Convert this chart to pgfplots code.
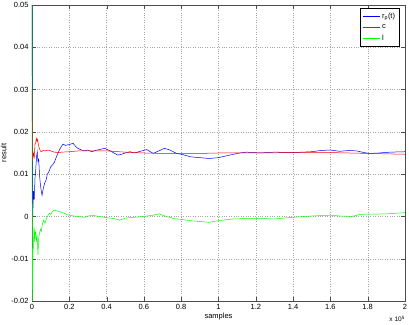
\documentclass[border=0pt]{standalone}
\usepackage{fontspec}
\setmainfont{Liberation Sans}
\usepackage{pgfplots}
\pgfplotsset{compat=1.18}
\begin{document}
\begin{tikzpicture}
\begin{axis}[
  name=ax,
  scale only axis,
  width=373pt, height=296pt,
  xmin=0, xmax=2, ymin=-0.02, ymax=0.05,
  xtick={0,0.2,...,2.01},
  ytick={-0.02,-0.01,0,0.01,0.02,0.03,0.04,0.05},
  scaled x ticks=false, scaled y ticks=false,
  xticklabel style={/pgf/number format/fixed,/pgf/number format/precision=1},
  yticklabel style={/pgf/number format/fixed,/pgf/number format/precision=2},
  /pgf/number format/assume math mode=true,
  tick label style={font=\fontsize{7.5}{9}\selectfont},
  label style={font=\fontsize{7.5}{9}\selectfont},
  xlabel={samples}, ylabel={result},
  xlabel style={yshift=4pt},
  ylabel style={yshift=-2pt},
  grid=major,
  major grid style={dotted, gray!70},
  axis line style={black!70},
  tick style={black!70},
  major tick length=4pt,
  clip=false,
  legend style={at={(0.986,0.99)}, anchor=north east, draw=black, font=\fontsize{7.5}{8}\selectfont, row sep=1pt, inner sep=2.5pt},
  legend cell align=left,
]
\addplot[blue, line width=0.5pt] coordinates {
(0,0.05)(0.004,0.000)(0.008,0.006)(0.012,0.004)(0.016,0.009)(0.020,0.011)(0.024,0.014)(0.028,0.0153)(0.032,0.013)(0.036,0.0135)(0.040,0.010)(0.045,0.0075)(0.050,0.006)(0.054,0.005)(0.060,0.0065)(0.068,0.0079)(0.075,0.0085)(0.082,0.0100)(0.090,0.0105)(0.100,0.0117)(0.110,0.0122)(0.120,0.0128)(0.130,0.0140)(0.140,0.0150)(0.150,0.0160)(0.166,0.0171)(0.180,0.0168)(0.200,0.0170)(0.220,0.0173)(0.235,0.0165)(0.246,0.0161)(0.26,0.0158)(0.28,0.0155)(0.30,0.0157)(0.32,0.0153)(0.34,0.0156)(0.36,0.0158)(0.39,0.0161)(0.42,0.0155)(0.44,0.0150)(0.46,0.0145)(0.48,0.0147)(0.50,0.0150)(0.525,0.0153)(0.55,0.0150)(0.58,0.0154)(0.615,0.0158)(0.65,0.0149)(0.68,0.0155)(0.71,0.0161)(0.74,0.0157)(0.775,0.0149)(0.80,0.0147)(0.85,0.0141)(0.90,0.0139)(0.95,0.0137)(1.00,0.0139)(1.02,0.0141)(1.06,0.0145)(1.10,0.0149)(1.15,0.0152)(1.22,0.0150)(1.30,0.0152)(1.40,0.0151)(1.50,0.0153)(1.55,0.0156)(1.60,0.0157)(1.65,0.0154)(1.70,0.0156)(1.74,0.0155)(1.78,0.0151)(1.81,0.0149)(1.86,0.0150)(1.92,0.0152)(2.00,0.0153)
};
\addlegendentry{r\textsubscript{p}(t)}
\addplot[red, line width=0.5pt] coordinates {
(0,0.03)(0.003,0.013)(0.008,0.015)(0.012,0.014)(0.016,0.017)(0.020,0.0175)(0.023,0.0185)(0.027,0.0178)(0.030,0.0182)(0.035,0.0168)(0.040,0.0160)(0.045,0.0155)(0.050,0.0153)(0.060,0.0156)(0.070,0.0155)(0.086,0.0157)(0.10,0.0155)(0.12,0.0152)(0.14,0.0151)(0.16,0.0152)(0.20,0.0153)(0.25,0.0155)(0.30,0.0155)(0.40,0.0155)(0.50,0.0152)(0.60,0.0150)(0.70,0.0149)(0.80,0.0149)(0.90,0.0149)(1.00,0.0150)(1.20,0.0150)(1.40,0.0151)(1.60,0.0151)(1.80,0.0149)(2.00,0.0147)
};
\addlegendentry{c}
\addplot[green, line width=0.5pt] coordinates {
(0,0.05)(0.002,-0.02)(0.005,-0.008)(0.008,-0.0072)(0.011,-0.0024)(0.014,-0.006)(0.017,-0.0035)(0.020,-0.004)(0.023,-0.006)(0.027,-0.0045)(0.030,-0.007)(0.032,-0.0091)(0.036,-0.005)(0.040,-0.004)(0.045,-0.003)(0.050,-0.0035)(0.055,-0.002)(0.062,-0.0009)(0.070,-0.0016)(0.078,-0.0005)(0.086,0.0003)(0.094,0.0007)(0.10,0.0005)(0.11,0.0012)(0.12,0.0015)(0.135,0.0013)(0.15,0.0011)(0.17,0.0008)(0.19,0.0004)(0.21,0.0002)(0.24,0.0000)(0.28,-0.0002)(0.32,0.0003)(0.36,0.0000)(0.40,-0.0003)(0.44,-0.0005)(0.47,-0.0009)(0.50,-0.0004)(0.55,-0.0002)(0.60,0.0000)(0.65,0.0003)(0.68,0.0006)(0.72,0.0000)(0.76,-0.0005)(0.80,-0.0007)(0.85,-0.0010)(0.95,-0.0014)(1.00,-0.0010)(1.08,-0.0006)(1.15,-0.0005)(1.22,-0.0005)(1.30,-0.0006)(1.40,-0.0002)(1.50,0.0001)(1.60,0.0003)(1.65,0.0001)(1.72,0.0000)(1.76,0.0005)(1.90,0.0006)(2.00,0.0009)
};
\addlegendentry{l}
\node[anchor=north east, font=\fontsize{6.5}{8}\selectfont, inner sep=0pt] at ([yshift=-15pt]rel axis cs:1,0) {x 10\textsuperscript{5}};
\end{axis}
\pgfresetboundingbox
\path ([xshift=-32pt,yshift=-24pt]ax.south west) rectangle ([xshift=4pt,yshift=5pt]ax.north east);
\end{tikzpicture}
\end{document}
